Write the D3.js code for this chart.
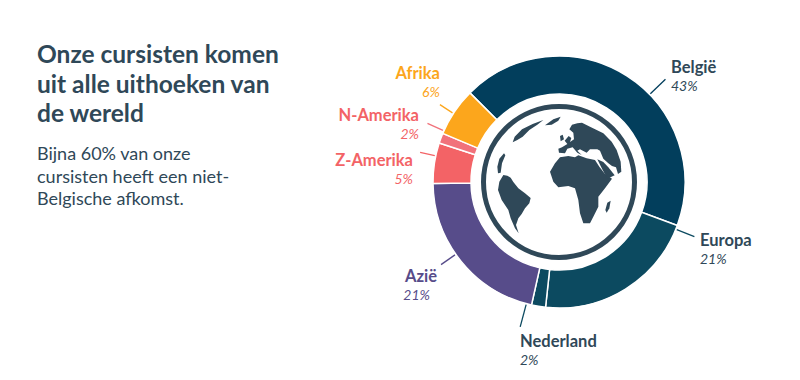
<!DOCTYPE html>
<html><head><meta charset="utf-8">
<script src="https://cdn.jsdelivr.net/npm/d3@7"></script>
<style>html,body{margin:0;padding:0;background:#fff}svg{display:block}text{font-family:Lato,sans-serif}</style>
</head><body><svg id="c" width="800" height="380"></svg>
<script>
const categories = ["België","Europa","Nederland","Azië","Z-Amerika","N-Amerika","Afrika"];
const shares = [43.1,21.1,1.8,21.3,5.2,1.3,6.2];
const shareLabels = ["43%","21%","2%","21%","5%","2%","6%"];
const sliceColors = ["#023e5c","#0c4a60","#0c4a60","#574c8a","#f36366","#f1727b","#fca61c"];
const labelColors = ["#2f4858","#2f4858","#2f4858","#574c8a","#f36366","#f36366","#fca61c"];
const titleLines = ["Onze cursisten komen","uit alle uithoeken van","de wereld"];
const subtitleLines = ["Bijna 60% van onze","cursisten heeft een niet-","Belgische afkomst."];
const leaderAngles = [46,112,195,235,282,294,303];
const leaderEnds = [148,146,150,144,142,144,142];
const labelAnchors = ["start","start","start","end","end","end","end"];

const svg = d3.select("#c");
const cx = 559, cy = 182, R = 126, r0 = 88;
const dark = "#2f4858";

const title = svg.append("g").attr("fill",dark).attr("font-weight",700).attr("font-size",24.5);
titleLines.forEach((t,i)=>title.append("text").attr("x",37).attr("y",63+i*29.5).text(t));
const sub = svg.append("g").attr("fill",dark).attr("font-size",18);
subtitleLines.forEach((t,i)=>sub.append("text").attr("x",37).attr("y",160+i*22.5).text(t));

const g = svg.append("g").attr("transform",`translate(${cx},${cy})`);
const pie = d3.pie().sort(null).startAngle(-Math.PI/4).endAngle(Math.PI*7/4);
const arc = d3.arc().innerRadius(r0).outerRadius(R);
g.selectAll("path.s").data(pie(shares)).join("path").attr("class","s")
  .attr("d",arc).attr("fill",(d,i)=>sliceColors[i]).attr("stroke","#fff").attr("stroke-width",1.5);

const rad = d3.scaleLinear().domain([0,360]).range([0,2*Math.PI]);
g.selectAll("line.l").data(categories).join("line").attr("class","l")
  .each(function(d,i){
    const a = d3.pointRadial(rad(leaderAngles[i]),R+1), b = d3.pointRadial(rad(leaderAngles[i]),leaderEnds[i]);
    d3.select(this).attr("x1",a[0]).attr("y1",a[1]).attr("x2",b[0]).attr("y2",b[1]);
  }).attr("stroke",(d,i)=>sliceColors[i]).attr("stroke-width",1.3);

const labelX = [671,700,520,437,413,419,440];
const labelY = [73,246,347,282,166,121,79];
const pctX = [671,700,520,430,413,419,440];
const lab = svg.append("g");
categories.forEach((c,i)=>{
  lab.append("text").attr("x",labelX[i]).attr("y",labelY[i]).attr("text-anchor",labelAnchors[i])
    .attr("font-size",16.5).attr("font-weight",700).attr("fill",labelColors[i]).text(c);
  lab.append("text").attr("x",pctX[i]).attr("y",labelY[i]+17.5).attr("text-anchor",labelAnchors[i])
    .attr("font-size",14).attr("font-style","italic").attr("fill",labelColors[i]).text(shareLabels[i]);
});

// globe icon
g.append("circle").attr("r",75.5).attr("fill","none").attr("stroke",dark).attr("stroke-width",5);
const land = [
 "M40 195L52 197L62 203L70 216L85 235L105 250L122 264L118 280L105 295L95 312L85 325L78 345L86 370L75 355L62 325L55 300L35 270L24 240L28 215Z",
 "M180 185L195 160L210 142L235 138L255 142L265 136L290 145L315 150L328 170L345 192L366 206L345 235L325 260L325 290L310 320L300 340L280 340L270 310L265 270L255 235L235 228L205 232L190 215Z",
 "M352 278L362 272L358 295L350 308L346 300Z",
 "M207 128L205 116L216 112L232 102L224 92L236 78L244 84L240 96L252 88L250 68L238 58L246 44L262 40L276 38L300 50L340 70L365 95L380 120L392 155L394 185L384 192L378 172L366 168L355 160L340 146L330 122L322 118L300 118L290 128L270 118L262 122L275 135L262 128L248 112L232 116L225 130Z",
 "M322 148L340 156L355 172L374 196L352 206L336 176Z",
 "M210 78L218 74L222 88L212 94Z",
 "M68 97L74 80L96 58L128 42L160 30L142 44L118 60L98 80L82 90Z",
 "M165 46L190 28L212 20L205 32L185 44Z",
 "M22 170L28 146L42 130L46 136L36 160L32 188L24 190Z"
];
g.append("g").attr("transform","scale(0.3333) translate(-207,-216)").selectAll("path").data(land).join("path")
  .attr("d",d=>d).attr("fill",dark);
</script></body></html>
